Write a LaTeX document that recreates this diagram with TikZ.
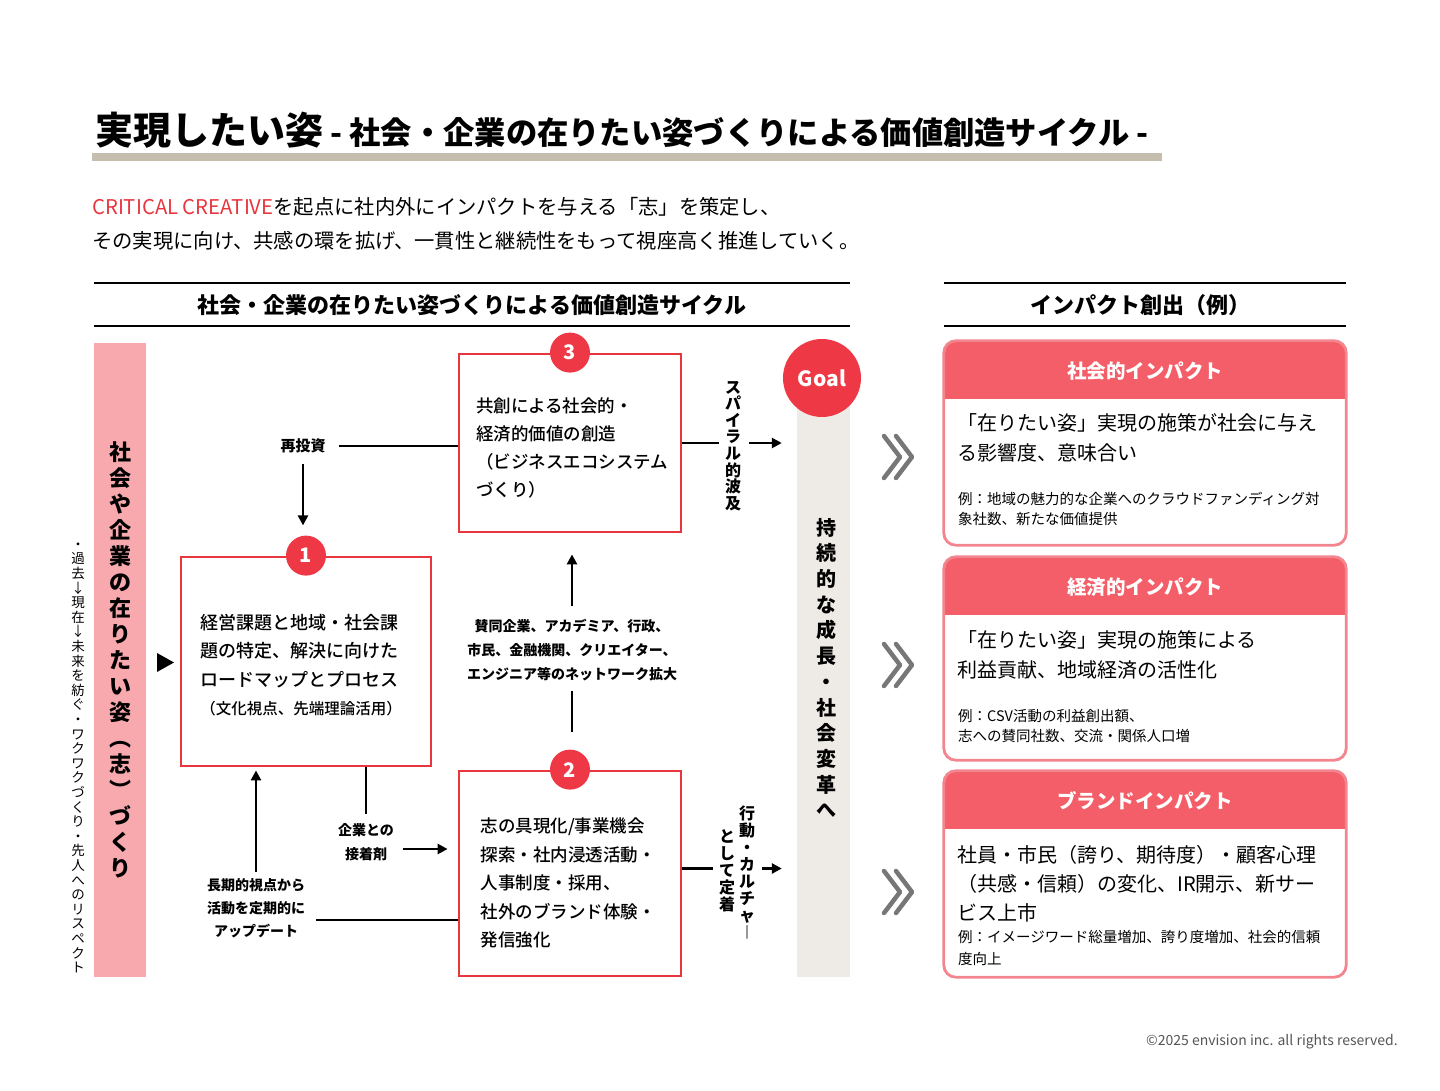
\documentclass[tikz,border=0pt]{standalone}
\usepackage{fontspec}
\setmainfont{Noto Sans CJK JP}
\newfontfamily\medfont{Noto Sans CJK JP}[UprightFont=* Medium]
\usetikzlibrary{arrows.meta,positioning}

\definecolor{accent}{HTML}{E8363F}
\definecolor{dotred}{HTML}{EE3845}
\definecolor{pinkbar}{HTML}{F8A9AE}
\definecolor{goalbar}{HTML}{EEEAE5}
\definecolor{hdr}{HTML}{F45E68}
\definecolor{hdrline}{HTML}{F2858D}
\definecolor{rulebeige}{HTML}{C5BEAE}
\definecolor{chev}{HTML}{777777}
\definecolor{copygray}{HTML}{555555}

\newcommand\fsz[2]{\fontsize{#1}{#2}\selectfont}

\tikzset{
  redbox/.style={draw=accent, line width=2.8pt, inner sep=0pt},
  boxtext/.style={align=left, inner sep=0pt},
  numdot/.style={circle, fill=dotred, text=white, minimum size=40pt, inner sep=0pt,
    font=\fsz{20}{20}\bfseries},
  conn/.style={line width=2.5pt},
  arr/.style={conn, -{Triangle[length=10pt,width=10pt]}},
  lbl/.style={align=center, inner sep=1pt, font=\fsz{14}{24}\bfseries},
  vstack/.style={align=center, inner sep=0pt},
  impshape/.style={rectangle, minimum width=402pt, inner sep=0pt},
  impline/.style={draw=hdrline, line width=2.8pt, rounded corners=12pt},
  hdrtxt/.style={text=white, font=\fsz{19.5}{20}\bfseries},
  body/.style={anchor=west, align=left, inner sep=0pt},
  sechead/.style={font=\fsz{22}{22}\bfseries},
  secrule/.style={line width=2pt},
  chevron/.style={draw=chev, line width=4.5pt, line cap=round, line join=round}
}

\begin{document}
\begin{tikzpicture}[x=1pt,y=-1pt]
\useasboundingbox (0,0) rectangle (1440,1091);

% title and lead
\node[anchor=base west, inner sep=0pt] (title) at (95,145)
  {{\fsz{38}{40}\bfseries 実現したい姿}{\fsz{31.3}{32}\bfseries\ - 社会・企業の在りたい姿づくりによる価値創造サイクル -}};
\fill[rulebeige] (92,153) rectangle (1162,161);
\node[anchor=base west, inner sep=0pt, font=\fsz{20.3}{20}] (lead1) at (92,215)
  {{\color{accent}CRITICAL CREATIVE}を起点に社内外にインパクトを与える「志」を策定し、};
\node[anchor=base west, inner sep=0pt, font=\fsz{20.3}{20}] (lead2) at (92,249)
  {その実現に向け、共感の環を拡げ、一貫性と継続性をもって視座高く推進していく。};

% section heads
\draw[secrule] (94,283) -- (850,283);
\draw[secrule] (94,326) -- (850,326);
\node[sechead] (hcycle) at (472,305) {社会・企業の在りたい姿づくりによる価値創造サイクル};
\draw[secrule] (944,283) -- (1346,283);
\draw[secrule] (944,326) -- (1346,326);
\node[sechead] (himpact) at (1140,305) {インパクト創出（例）};

% left bars
\node[fill=pinkbar, minimum width=52pt, minimum height=634pt, vstack,
  font=\fsz{22}{26}\bfseries] (purpose) at (120,660)
  {社\\会\\や\\企\\業\\の\\在\\り\\た\\い\\姿\\︵\\志\\︶\\づ\\く\\り};
\node[vstack, font=\fsz{13.5}{14.6}] (past) at (78,758)
  {・\\過\\去\\↓\\現\\在\\↓\\未\\来\\を\\紡\\ぐ\\・\\ワ\\ク\\ワ\\ク\\づ\\く\\り\\・\\先\\人\\へ\\の\\リ\\ス\\ペ\\ク\\ト};
\fill (157,653) -- (174,662.5) -- (157,672) -- cycle;

% cycle boxes
\node[redbox, minimum width=250pt, minimum height=209pt] (b1) at (306,661.5) {};
\node[boxtext, font=\medfont\fsz{18}{28.5}] (b1-t) at (301,665)
  {経営課題と地域・社会課\\題の特定、解決に向けた\\ロードマップとプロセス\\{\fsz{15.5}{27}（文化視点、先端理論活用）}};
\node[redbox, minimum width=222pt, minimum height=178pt] (b3) at (570,443) {};
\node[boxtext, font=\medfont\fsz{17.5}{28}] (b3-t) at (572,448)
  {共創による社会的・\\経済的価値の創造\\（ビジネスエコシステム\\づくり）};
\node[redbox, minimum width=222pt, minimum height=205pt] (b2) at (570,873.5) {};
\node[boxtext, font=\medfont\fsz{17.5}{28.5}] (b2-t) at (568,883)
  {志の具現化/事業機会\\探索・社内浸透活動・\\人事制度・採用、\\社外のブランド体験・\\発信強化};
\node[numdot] (n1) at (b1.north) {1};
\node[numdot] (n3) at (b3.north) {3};
\node[numdot] (n2) at (b2.north) {2};

% labels
\node[lbl, font=\fsz{15}{20}\bfseries] (reinv) at (303,446) {再投資};
\node[lbl] (net) at (572,650) {賛同企業、アカデミア、行政、\\市民、金融機関、クリエイター、\\エンジニア等のネットワーク拡大};
\node[lbl] (glue) at (366,842) {企業との\\接着剤};
\node[lbl, font=\fsz{14}{23}\bfseries] (upd) at (256,908) {長期的視点から\\活動を定期的に\\アップデート};

% goal
\node[fill=goalbar, minimum width=53pt, minimum height=587pt] (gbar) at (823.5,683.5) {};
\node[circle, fill=dotred, text=white, minimum size=78pt, inner sep=0pt,
  font=\fsz{21}{21}\bfseries] (goal) at (822,378) {Goal};
\node[vstack, font=\fsz{20}{25.7}\bfseries] (growth) at (826,668)
  {持\\続\\的\\な\\成\\長\\・\\社\\会\\変\\革\\へ};
\node[vstack, font=\fsz{16}{16.6}\bfseries] (spiral) at (733,446)
  {ス\\パ\\イ\\ラ\\ル\\的\\波\\及};
\node[vstack, font=\fsz{16}{17}\bfseries] (culA) at (747,873)
  {行\\動\\・\\カ\\ル\\チ\\ャ\\︱};
\node[vstack, font=\fsz{16}{17}\bfseries] (culB) at (727,871)
  {と\\し\\て\\定\\着};

% connectors
\draw[conn, shorten <=12pt] (reinv.east) -- (reinv.east -| b3.west);
\draw[arr, shorten <=10pt, shorten >=10pt] (reinv.south) -- (reinv.south |- n1.north);
\draw[arr, shorten <=12pt, shorten >=21pt] (net.north) -- (net.north |- b3.south);
\draw[conn, shorten <=9pt, shorten >=17pt] (net.south) -- (net.south |- n2.north);
\draw[conn, shorten >=8pt] (glue.north |- b1.south) -- (glue.north);
\draw[arr, shorten <=8pt, shorten >=10pt] ([yshift=-7pt]glue.east) -- ([yshift=-7pt]glue.east -| b2.west);
\draw[arr, shorten <=5pt, shorten >=3pt] (upd.north) -- (upd.north |- b1.south);
\draw[conn, shorten <=10pt] ([yshift=-12pt]upd.east) -- ([yshift=-12pt]upd.east -| b2.west);
\draw[conn, shorten >=6pt] (b3.east) -- (b3.east -| spiral.west);
\draw[arr, shorten <=8pt, shorten >=15pt] (b3.east -| spiral.east) -- (b3.east -| gbar.west);
\draw[conn, shorten >=6pt] ([yshift=5pt]b2.east) -- ([yshift=5pt]b2.east -| culB.west);
\draw[arr, shorten <=7pt, shorten >=15pt] ([yshift=5pt]b2.east -| culA.east) -- ([yshift=5pt]b2.east -| gbar.west);

% chevrons
\foreach \cy in {457,665,892} {
  \draw[chevron] (884,\cy-21) -- (900,\cy) -- (884,\cy+21);
  \draw[chevron] (896,\cy-21) -- (912,\cy) -- (896,\cy+21);
}

% impact boxes
\foreach \nm/\cy/\h/\ttl in {soc/443/204/社会的インパクト, eco/658.5/203/経済的インパクト, brd/874/206/ブランドインパクト} {
  \path node[impshape, minimum height=\h pt] (\nm) at (1145,\cy) {};
  \begin{scope}
    \clip[rounded corners=12pt] (\nm.north west) rectangle (\nm.south east);
    \fill[hdr] (\nm.north west) rectangle ++(402,58);
  \end{scope}
  \draw[impline] (\nm.north west) rectangle (\nm.south east);
  \node[hdrtxt] (\nm-h) at (1145,\cy-\h/2+30) {\ttl};
}
\node[body, font=\fsz{20}{30}] (soc-b) at (957,438)
  {「在りたい姿」実現の施策が社会に与え\\る影響度、意味合い};
\node[body, font=\fsz{14.5}{20}] (soc-e) at (958,509)
  {例：地域の魅力的な企業へのクラウドファンディング対\\象社数、新たな価値提供};
\node[body, font=\fsz{20}{30}] (eco-b) at (957,655)
  {「在りたい姿」実現の施策による\\利益貢献、地域経済の活性化};
\node[body, font=\fsz{14.5}{20}] (eco-e) at (958,726)
  {例：CSV活動の利益創出額、\\志への賛同社数、交流・関係人口増};
\node[body, font=\fsz{20}{29}] (brd-b) at (957,884)
  {社員・市民（誇り、期待度）・顧客心理\\（共感・信頼）の変化、IR開示、新サー\\ビス上市};
\node[body, font=\fsz{14.5}{22}] (brd-e) at (958,948)
  {例：イメージワード総量増加、誇り度増加、社会的信頼\\度向上};

\node[anchor=east, text=copygray, font=\fsz{14}{16}, inner sep=0pt] (copy) at (1398,1042)
  {©2025 envision inc. all rights reserved.};
\end{tikzpicture}
\end{document}
